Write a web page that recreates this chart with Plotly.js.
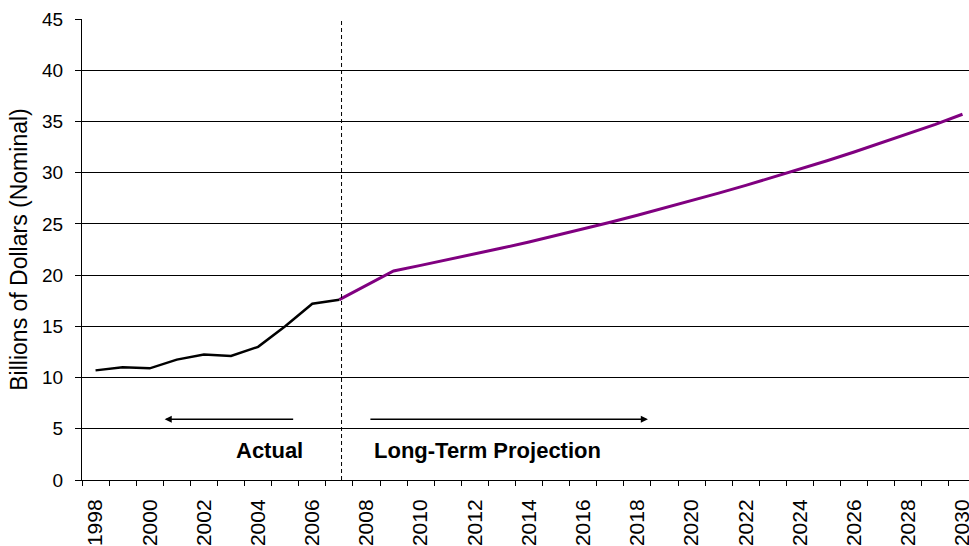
<!DOCTYPE html>
<html>
<head>
<meta charset="utf-8">
<script src="https://cdn.plot.ly/plotly-3.0.1.min.js"></script>
<style>html,body{margin:0;padding:0;background:#fff}#chart{width:969px;height:546px}</style>
</head>
<body>
<div id="chart"></div>
<script>
var actualYears = [1998,1999,2000,2001,2002,2003,2004,2005,2006,2007];
var actualValues = [10.7,11.0,10.9,11.75,12.25,12.1,13.0,15.0,17.2,17.6];
var projYears = [2007,2008,2009,2010,2011,2012,2013,2014,2015,2016,2017,2018,2019,2020,2021,2022,2023,2024,2025,2026,2027,2028,2029,2030];
var projValues = [17.6,19.0,20.4,20.95,21.5,22.06,22.64,23.24,23.86,24.5,25.16,25.84,26.54,27.26,28.0,28.76,29.54,30.34,31.16,32.02,32.9,33.8,34.72,35.7];
var tickYears = [1998,2000,2002,2004,2006,2008,2010,2012,2014,2016,2018,2020,2022,2024,2026,2028,2030];
var yTicks = [0,5,10,15,20,25,30,35,40,45];

var font = 'Arial, "Liberation Sans", Helvetica, sans-serif';

var traces = [
  {x: projYears, y: projValues, type:'scatter', mode:'lines', line:{color:'#800080', width:3}, hoverinfo:'skip'},
  {x: actualYears, y: actualValues, type:'scatter', mode:'lines', line:{color:'#000000', width:2.5}, hoverinfo:'skip'}
];

var layout = {
  width: 969, height: 546,
  margin: {l:82, r:0, t:19, b:66, pad:0},
  paper_bgcolor:'#fff', plot_bgcolor:'#fff',
  showlegend:false,
  font:{family:font, color:'#000', size:19},
  xaxis: {
    range:[1997.5, 2030.24],
    tickmode:'array', tickvals: tickYears, ticktext: tickYears.map(String),
    tickangle:-90, ticks:'', ticklabelstandoff: 10, ticklabeloverflow:'allow',
    showgrid:false, zeroline:false,
    showline:true, linecolor:'#000', linewidth:1,
    tickfont:{family:font, size:21, color:'#000'},
    minor:{tickmode:'linear', tick0:1997.5, dtick:1, ticks:'outside', ticklen:5, tickcolor:'#000', tickwidth:1, showgrid:false}
  },
  yaxis: {
    range:[0,45], tickmode:'array', tickvals:yTicks,
    ticks:'outside', ticklen:6, tickcolor:'#000', tickwidth:1,
    ticklabelstandoff: 8,
    showgrid:true, gridcolor:'#000', gridwidth:1,
    zeroline:false, showline:true, linecolor:'#000', linewidth:1,
    tickfont:{family:font, size:19, color:'#000'},
    title:{text:'Billions of Dollars (Nominal)', font:{family:font, size:23, color:'#000'}, standoff:8}
  },
  shapes: [
    {type:'line', xref:'x', yref:'y', x0:2007.08, x1:2007.08, y0:0, y1:45, line:{color:'#000', width:1, dash:'4px,3px'}}
  ],
  annotations: [
    {xref:'x', yref:'y', x:2000.55, y:5.93, ax:2005.35, ay:5.93, axref:'x', ayref:'y', text:'', showarrow:true, arrowhead:2, arrowsize:1.1, arrowwidth:1.3, arrowcolor:'#000'},
    {xref:'x', yref:'y', x:2018.39, y:5.93, ax:2008.09, ay:5.93, axref:'x', ayref:'y', text:'', showarrow:true, arrowhead:2, arrowsize:1.1, arrowwidth:1.3, arrowcolor:'#000'},
    {xref:'x', yref:'y', x:2004.43, y:2.9, text:'<b>Actual</b>', showarrow:false, font:{family:font, size:22, color:'#000'}},
    {xref:'x', yref:'y', x:2012.48, y:2.9, text:'<b>Long-Term Projection</b>', showarrow:false, font:{family:font, size:22, color:'#000'}}
  ]
};

Plotly.newPlot('chart', traces, layout, {staticPlot:true, displayModeBar:false});
</script>
</body>
</html>
